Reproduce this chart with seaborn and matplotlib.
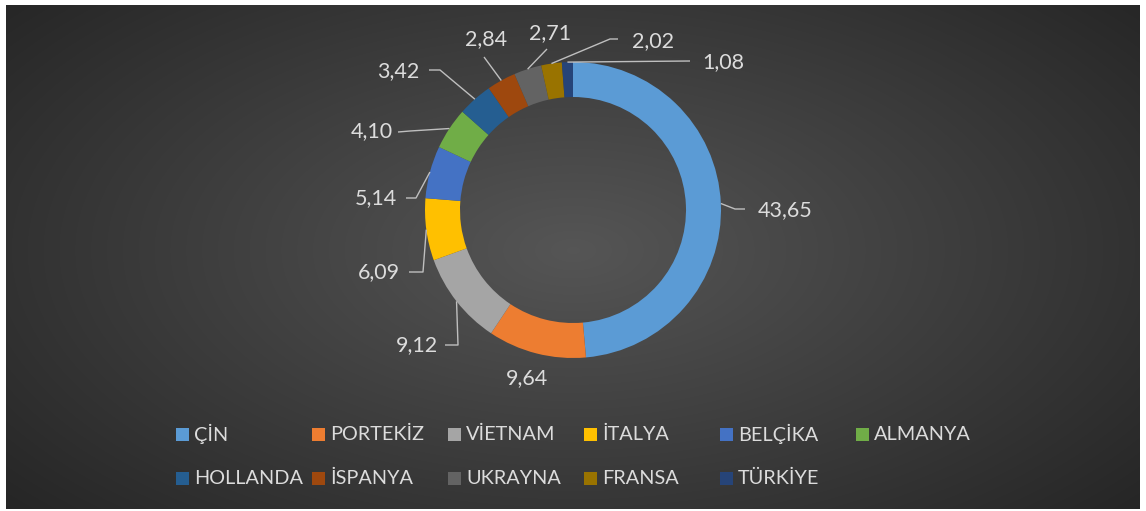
import numpy as np
import matplotlib
matplotlib.use("Agg")
import matplotlib.pyplot as plt
import seaborn as sns

# ---- data ----
countries = ["ÇİN", "PORTEKİZ", "VİETNAM", "İTALYA", "BELÇİKA", "ALMANYA",
             "HOLLANDA", "İSPANYA", "UKRAYNA", "FRANSA", "TÜRKİYE"]
shares = [43.65, 9.64, 9.12, 6.09, 5.14, 4.10, 3.42, 2.84, 2.71, 2.02, 1.08]
label_texts = ["43,65", "9,64", "9,12", "6,09", "5,14", "4,10",
               "3,42", "2,84", "2,71", "2,02", "1,08"]
hex_colors = ["#5B9BD5", "#ED7D31", "#A5A5A5", "#FFC000", "#4472C4", "#70AD47",
              "#255E91", "#9E480E", "#636363", "#997300", "#264478"]

sns.set_theme(style="dark")
plt.rcParams["font.family"] = ["Lato", "DejaVu Sans"]
palette = sns.color_palette(hex_colors)

W, H = 1146, 511
fig = plt.figure(figsize=(W / 100, H / 100), dpi=100)
fig.patch.set_facecolor("white")

# background radial gradient (chart area)
x0, x1, ytop, ybot = 6, 1140, 5, 509
gx = np.arange(x0, x1)
gy = np.arange(ytop, ybot)
XX, YY = np.meshgrid(gx, gy)
d = np.sqrt(((XX - 573) / 640.0) ** 2 + ((YY - 250) / 330.0) ** 2)
val = 0.335 - 0.19 * np.clip(d, 0, 1.2) / 1.2
rgb = np.dstack([val, val, val])
fig.figimage(rgb, xo=x0, yo=H - ybot, origin="upper", zorder=0)

ax = fig.add_axes([0, 0, 1, 1])
ax.set_zorder(2)
ax.patch.set_alpha(0)

def Y(y):
    return H - y

cx, cy, R, width = 573, 210, 148, 35
wedges, _ = ax.pie(shares, colors=palette, startangle=90, counterclock=False,
                   center=(cx, Y(cy)), radius=R,
                   wedgeprops=dict(width=width, linewidth=0))
ax.set_xlim(0, W)
ax.set_ylim(0, H)
ax.set_aspect("auto")
ax.axis("off")

# label layout: text position (pixel, y-down), alignment, leader path
layout = [
    ((758, 210), "left", [(735, 209), (745, 209)]),
    ((527, 378), "center", None),
    ((438, 345), "right", [(458, 345), (445, 345)]),
    ((400, 272), "right", [(423, 272), (409, 272)]),
    ((397, 198), "right", [(416, 198), (406, 198)]),
    ((393, 131), "right", [(410, 131), (398, 132)]),
    ((419, 71), "right", [(440, 70), (429, 70)]),
    ((486, 39), "center", [(484, 57)]),
    ((550, 33), "center", [(547, 49)]),
    ((632, 41), "left", [(610, 39), (618, 39)]),
    ((702, 62), "left", [(690, 61)]),
]

txt_color = "#dcdcdc"
line_color = "#bfbfbf"
for w, lab, (tpos, ha, path) in zip(wedges, label_texts, layout):
    if path is not None:
        mid = np.deg2rad((w.theta1 + w.theta2) / 2)
        sx = w.center[0] + w.r * np.cos(mid)
        sy = w.center[1] + w.r * np.sin(mid)
        xs = [sx] + [p[0] for p in path]
        ys = [sy] + [Y(p[1]) for p in path]
        ax.plot(xs, ys, color=line_color, lw=1.0, solid_capstyle="butt", zorder=3)
    ax.text(tpos[0], Y(tpos[1]), lab, ha=ha, va="center", fontsize=15.5,
            color=txt_color, zorder=4)

# legend (2 rows, 6 columns, equal column spacing)
col0, step, sq = 176, 136, 13
rows_y = [434, 478]
for i, (name, col) in enumerate(zip(countries, palette)):
    r, c = divmod(i, 6)
    lx = col0 + c * step
    ly = rows_y[r]
    ax.add_patch(plt.Rectangle((lx, Y(ly) - sq / 2), sq, sq, color=col, lw=0, zorder=4))
    ax.text(lx + sq + 5, Y(ly), name, ha="left", va="center", fontsize=14.3,
            color=txt_color, zorder=4)

fig.savefig("out.png", dpi=100, facecolor=fig.get_facecolor())
